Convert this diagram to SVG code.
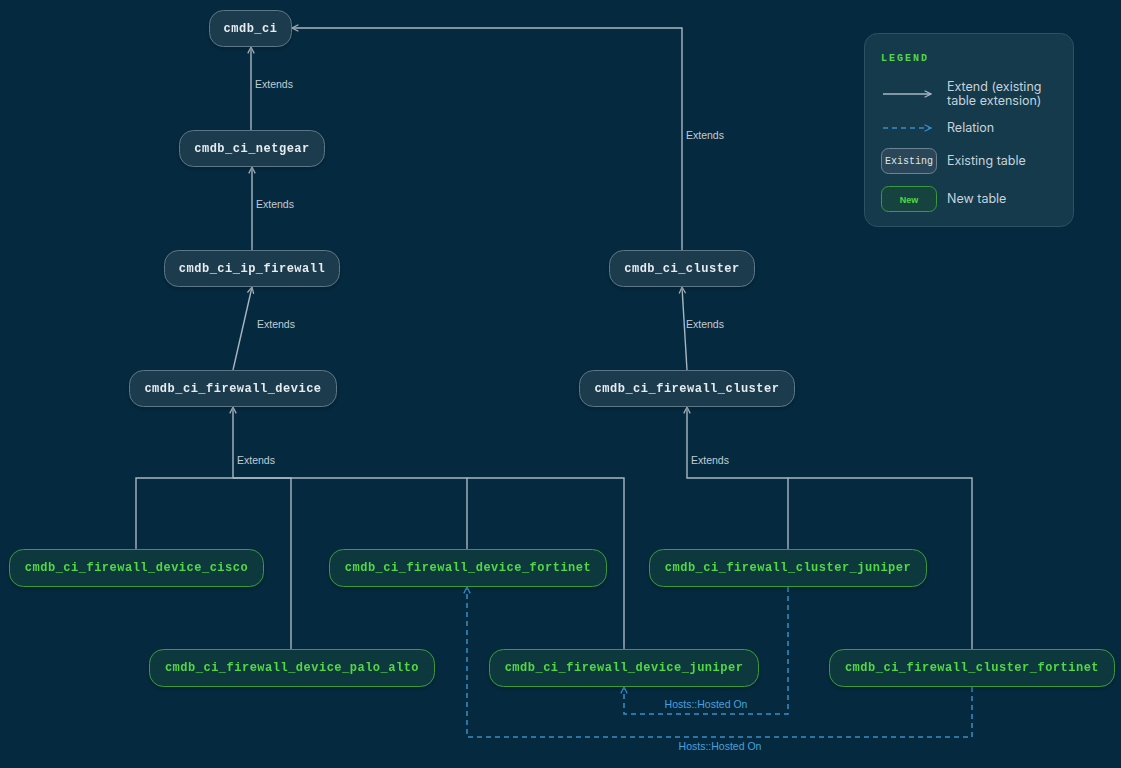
<svg xmlns="http://www.w3.org/2000/svg" width="1121" height="768" viewBox="0 0 1121 768">
<defs>
<style>
.bg{fill:#052a40}
.ex rect{fill:#1b3a4d;stroke:#5b7787;stroke-width:1}
.ex text{fill:#e6ecf0;font-family:"Liberation Mono",monospace;font-weight:bold;font-size:12px;letter-spacing:0.5px;text-anchor:middle;dominant-baseline:central}
.nw rect{fill:#0e393e;stroke:#3a9a3e;stroke-width:1}
.nw text{fill:#52d844;font-family:"Liberation Mono",monospace;font-weight:bold;font-size:12px;letter-spacing:0.5px;text-anchor:middle;dominant-baseline:central}
.ext{fill:none;stroke:#a9b6c0;stroke-width:1.4}
.rel{fill:none;stroke:#3a8cc8;stroke-width:1.5;stroke-dasharray:5 4}
.lbl{fill:#c2ccd4;font-family:"Liberation Sans",Arial,sans-serif;font-size:10.5px}
.rlbl{fill:#4aa0dc;font-family:"Liberation Sans",Arial,sans-serif;font-size:10.5px;text-anchor:middle}
.lg{fill:#c8d2da;font-family:Inter,"Liberation Sans",Arial,sans-serif;font-size:12.5px}
</style>
<marker id="ah" viewBox="0 0 10 10" refX="9" refY="5" markerWidth="8" markerHeight="8" markerUnits="userSpaceOnUse" orient="auto"><path d="M1,1 L9,5 L1,9" fill="none" stroke="#a9b6c0" stroke-width="1.6"/></marker>
<marker id="ahb" viewBox="0 0 10 10" refX="9" refY="5" markerWidth="8" markerHeight="8" markerUnits="userSpaceOnUse" orient="auto"><path d="M1,1 L9,5 L1,9" fill="none" stroke="#3a8cc8" stroke-width="1.6"/></marker>
<filter id="sh" x="-10%" y="-30%" width="120%" height="170%"><feDropShadow dx="0" dy="2" stdDeviation="3" flood-color="#000" flood-opacity="0.25"/></filter>
</defs>
<rect class="bg" x="0" y="0" width="1121" height="768"/>

<g id="connectors">
<path class="ext" d="M251,130 V47" marker-end="url(#ah)"/>
<text class="lbl" x="255" y="88">Extends</text>
<path class="ext" d="M252,250 V167" marker-end="url(#ah)"/>
<text class="lbl" x="256" y="208">Extends</text>
<path class="ext" d="M233,370 L252,287" marker-end="url(#ah)"/>
<text class="lbl" x="257" y="328">Extends</text>
<path class="ext" d="M682,250 V28 H292" marker-end="url(#ah)"/>
<text class="lbl" x="686" y="139">Extends</text>
<path class="ext" d="M687,370 L682,287" marker-end="url(#ah)"/>
<text class="lbl" x="686" y="328">Extends</text>

<path class="ext" d="M136,549 V478 H233 V407" marker-end="url(#ah)"/>
<path class="ext" d="M291,649 V478 H233"/>
<path class="ext" d="M467,549 V478 H233"/>
<path class="ext" d="M624,649 V478 H467"/>
<text class="lbl" x="237" y="464">Extends</text>

<path class="ext" d="M788,549 V478 H687 V407" marker-end="url(#ah)"/>
<path class="ext" d="M972,649 V478 H788"/>
<text class="lbl" x="691" y="464">Extends</text>

<path class="rel" d="M788,587 V714 H624 V687" marker-end="url(#ahb)"/>
<text class="rlbl" x="706" y="708">Hosts::Hosted On</text>
<path class="rel" d="M972,687 V737 H467 V587" marker-end="url(#ahb)"/>
<text class="rlbl" x="720" y="750">Hosts::Hosted On</text>
</g>

<g id="cmdb_ci" class="ex" filter="url(#sh)"><rect x="209.5" y="10.5" width="82" height="36" rx="14"/><text x="250.5" y="28.5">cmdb_ci</text></g>
<g id="cmdb_ci_netgear" class="ex" filter="url(#sh)"><rect x="179.5" y="130.5" width="145" height="36" rx="14"/><text x="252" y="148.5">cmdb_ci_netgear</text></g>
<g id="cmdb_ci_ip_firewall" class="ex" filter="url(#sh)"><rect x="164.5" y="250.5" width="175" height="36" rx="14"/><text x="252" y="268.5">cmdb_ci_ip_firewall</text></g>
<g id="cmdb_ci_firewall_device" class="ex" filter="url(#sh)"><rect x="129.5" y="370.5" width="207" height="36" rx="14"/><text x="233" y="388.5">cmdb_ci_firewall_device</text></g>
<g id="cmdb_ci_cluster" class="ex" filter="url(#sh)"><rect x="609.5" y="250.5" width="145" height="36" rx="14"/><text x="682" y="268.5">cmdb_ci_cluster</text></g>
<g id="cmdb_ci_firewall_cluster" class="ex" filter="url(#sh)"><rect x="579.5" y="370.5" width="215" height="36" rx="14"/><text x="687" y="388.5">cmdb_ci_firewall_cluster</text></g>

<g id="cmdb_ci_firewall_device_cisco" class="nw" filter="url(#sh)"><rect x="9.5" y="549.5" width="254" height="37" rx="14"/><text x="136.5" y="568">cmdb_ci_firewall_device_cisco</text></g>
<g id="cmdb_ci_firewall_device_fortinet" class="nw" filter="url(#sh)"><rect x="329.5" y="549.5" width="277" height="37" rx="14"/><text x="468" y="568">cmdb_ci_firewall_device_fortinet</text></g>
<g id="cmdb_ci_firewall_cluster_juniper" class="nw" filter="url(#sh)"><rect x="649.5" y="549.5" width="277" height="37" rx="14"/><text x="788" y="568">cmdb_ci_firewall_cluster_juniper</text></g>
<g id="cmdb_ci_firewall_device_palo_alto" class="nw" filter="url(#sh)"><rect x="149.5" y="649.5" width="285" height="37" rx="14"/><text x="292" y="668">cmdb_ci_firewall_device_palo_alto</text></g>
<g id="cmdb_ci_firewall_device_juniper" class="nw" filter="url(#sh)"><rect x="489.5" y="649.5" width="269" height="37" rx="14"/><text x="624" y="668">cmdb_ci_firewall_device_juniper</text></g>
<g id="cmdb_ci_firewall_cluster_fortinet" class="nw" filter="url(#sh)"><rect x="829.5" y="649.5" width="285" height="37" rx="14"/><text x="972" y="668">cmdb_ci_firewall_cluster_fortinet</text></g>

<g id="legend">
<rect x="864.5" y="33.5" width="209" height="193" rx="13" fill="#143a4c" stroke="#2c5264" stroke-width="1"/>
<text x="881" y="61" fill="#52d844" font-family="Liberation Mono,monospace" font-weight="bold" font-size="10px" letter-spacing="2px">LEGEND</text>
<path class="ext" d="M883,94 H931" marker-end="url(#ah)"/>
<text class="lg" x="947" y="91">Extend (existing</text>
<text class="lg" x="947" y="105">table extension)</text>
<path class="rel" d="M883,128 H931" marker-end="url(#ahb)"/>
<text class="lg" x="947" y="132">Relation</text>
<rect x="881.5" y="148.5" width="55" height="25" rx="7" fill="#2a4658" stroke="#6b8494"/>
<text x="909" y="161.5" fill="#dfe6ea" font-family="Liberation Mono,monospace" font-size="10px" text-anchor="middle" dominant-baseline="central">Existing</text>
<text class="lg" x="947" y="165">Existing table</text>
<rect x="881.5" y="186.5" width="55" height="25" rx="7" fill="#16433f" stroke="#3a9a3e"/>
<text x="909" y="199.5" fill="#52d844" font-family="Liberation Sans,Arial,sans-serif" font-weight="bold" font-size="9px" text-anchor="middle" dominant-baseline="central">New</text>
<text class="lg" x="947" y="203">New table</text>
</g>
</svg>
